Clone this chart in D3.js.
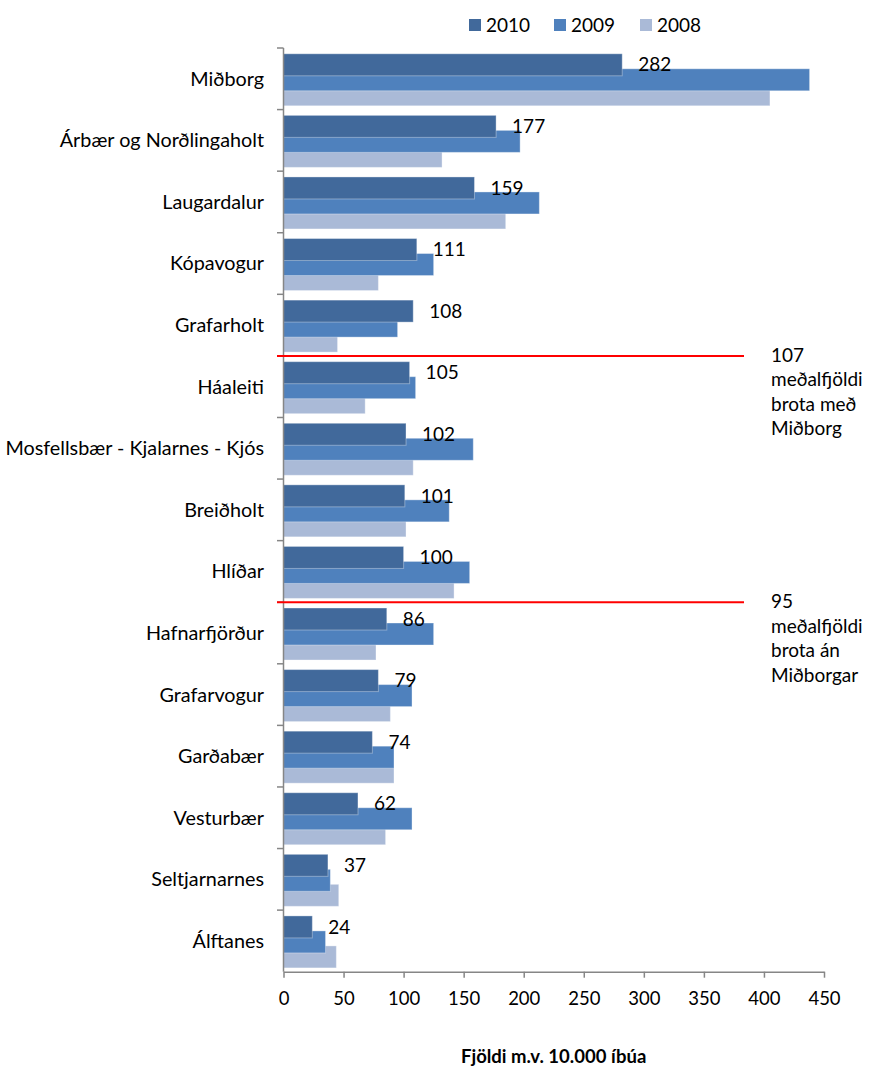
<!DOCTYPE html>
<html><head><meta charset="utf-8">
<script src="https://cdn.jsdelivr.net/npm/d3@7"></script>
<style>body{margin:0;background:#fff}svg{display:block}text{font-family:Lato,"DejaVu Sans",sans-serif;fill:#000}</style>
</head><body>
<script>
const categories = ["Miðborg","Árbær og Norðlingaholt","Laugardalur","Kópavogur","Grafarholt","Háaleiti","Mosfellsbær - Kjalarnes - Kjós","Breiðholt","Hlíðar","Hafnarfjörður","Grafarvogur","Garðabær","Vesturbær","Seltjarnarnes","Álftanes"];
const years = ["2010","2009","2008"];
const values2010 = [282,177,159,111,108,105,102,101,100,86,79,74,62,37,24];
const values2009 = [438,197,213,125,95,110,158,138,155,125,107,92,107,39,35];
const values2008 = [405,132,185,79,45,68,108,102,142,77,89,92,85,46,44];
const xTicks = [0,50,100,150,200,250,300,350,400,450];
const averageValues = [107,95];
const averageBefore = ["Háaleiti","Hafnarfjörður"];
const averageTexts = [["meðalfjöldi","brota með","Miðborg"],["meðalfjöldi","brota án","Miðborgar"]];
const axisTitle = "Fjöldi m.v. 10.000 íbúa";
const colors = {"2010":"#41699B","2009":"#4F81BD","2008":"#AABAD7"};

const series = {"2010":values2010,"2009":values2009,"2008":values2008};
const W=875,H=1072;
const svg=d3.select("body").append("svg").attr("width",W).attr("height",H);
const x=d3.scaleLinear().domain([0,450]).range([283.5,824]);
const y=d3.scaleBand().domain(categories).range([48,971.7]).padding(0);
const bh=22, bstep=15;
const off={"2010":-25,"2009":-25+bstep,"2008":-25+2*bstep};

["2008","2009","2010"].forEach(yr=>{
  svg.append("g").selectAll("rect").data(categories).join("rect")
    .attr("x",x(0)).attr("y",(c)=>y(c)+y.bandwidth()/2+off[yr])
    .attr("width",(c,i)=>x(series[yr][i])-x(0)).attr("height",bh)
    .attr("fill",colors[yr]).attr("stroke","rgba(255,255,255,0.35)").attr("stroke-width",1);
});

const axisCol="#868686";
const xa=svg.append("g").attr("transform",`translate(0,971.7)`)
  .call(d3.axisBottom(x).tickValues(xTicks).tickSize(6).tickPadding(14).tickSizeOuter(0));
xa.select(".domain").attr("stroke",axisCol).attr("stroke-width",1.5);
xa.selectAll("line").attr("stroke",axisCol).attr("stroke-width",1.5);
xa.selectAll("text").attr("font-size",18.5).attr("font-family","Lato").attr("fill","#000");

const ya=svg.append("g");
ya.append("line").attr("x1",283.5).attr("x2",283.5).attr("y1",48).attr("y2",971.7).attr("stroke",axisCol).attr("stroke-width",1.5);
ya.selectAll("line.t").data(categories).join("line").attr("class","t")
  .attr("x1",277).attr("x2",283.5).attr("y1",c=>y(c)).attr("y2",c=>y(c)).attr("stroke",axisCol).attr("stroke-width",1.5);
ya.selectAll("text").data(categories).join("text")
  .attr("x",264).attr("y",c=>y(c)+y.bandwidth()/2).attr("dy","0.35em")
  .attr("text-anchor","end").attr("font-size",19.8).text(c=>c);

svg.append("g").selectAll("text").data(categories).join("text")
  .attr("x",(c,i)=>x(values2010[i])+16).attr("y",c=>y(c)+y.bandwidth()/2-14).attr("dy","0.35em")
  .attr("font-size",19).text((c,i)=>values2010[i]);

averageValues.forEach((v,k)=>{
  const yy=y(averageBefore[k]);
  svg.append("line").attr("x1",277).attr("x2",744).attr("y1",yy).attr("y2",yy).attr("stroke","#FF0000").attr("stroke-width",2);
  const t=svg.append("text").attr("x",771).attr("y",yy).attr("font-size",19);
  [String(v)].concat(averageTexts[k]).forEach((s,j)=>{
    t.append("tspan").attr("x",771).attr("y",yy+6+j*24.5).text(s);
  });
});

const lg=svg.append("g");
const legX=[469,554,640];
years.forEach((yr,i)=>{
  lg.append("rect").attr("x",legX[i]).attr("y",19).attr("width",12).attr("height",12).attr("fill",colors[yr]);
  lg.append("text").attr("x",legX[i]+17).attr("y",25).attr("dy","0.35em").attr("font-size",19).text(yr);
});

svg.append("text").attr("x",553.7).attr("y",1063).attr("text-anchor","middle").attr("font-size",18.5).attr("font-weight","bold").text(axisTitle);
</script>
</body></html>
